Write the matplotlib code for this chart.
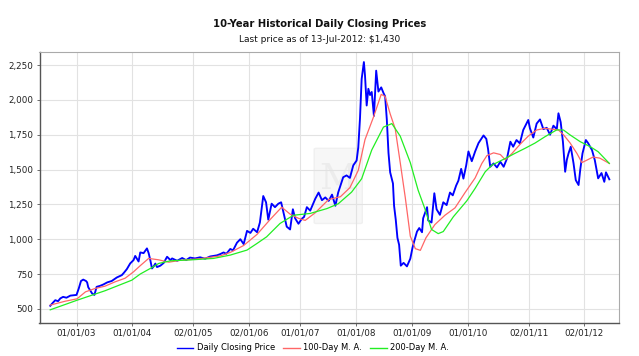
import matplotlib
matplotlib.use("Agg")
import matplotlib.pyplot as plt
import matplotlib.patches as mpatches
import pandas as pd

# ---------------- data (decimal years, values) ----------------
price_t = [2002.53, 2002.58, 2002.62, 2002.67, 2002.71, 2002.76, 2002.82, 2002.89, 2002.95, 2003.00,
           2003.04, 2003.08, 2003.12, 2003.17, 2003.19, 2003.21, 2003.25, 2003.28, 2003.32, 2003.36,
           2003.42, 2003.48, 2003.55, 2003.63, 2003.72, 2003.81, 2003.85, 2003.90, 2003.96, 2004.02,
           2004.05, 2004.11, 2004.14, 2004.20, 2004.26, 2004.29, 2004.32, 2004.35, 2004.38, 2004.41,
           2004.44, 2004.50, 2004.56, 2004.62, 2004.68, 2004.71, 2004.80, 2004.89, 2004.96, 2005.03,
           2005.12, 2005.21, 2005.30, 2005.39, 2005.51, 2005.57, 2005.63, 2005.68, 2005.75, 2005.80,
           2005.87, 2005.93, 2005.99, 2006.05, 2006.11, 2006.16, 2006.23, 2006.28, 2006.34, 2006.39,
           2006.43, 2006.49, 2006.55, 2006.61, 2006.66, 2006.70, 2006.76, 2006.82, 2006.87, 2006.91,
           2006.97, 2007.03, 2007.07, 2007.12, 2007.18, 2007.27, 2007.33, 2007.39, 2007.45, 2007.51,
           2007.57, 2007.63, 2007.68, 2007.77, 2007.83, 2007.89, 2007.95, 2008.01, 2008.04, 2008.07,
           2008.10, 2008.14, 2008.16, 2008.19, 2008.22, 2008.25, 2008.28, 2008.32, 2008.36, 2008.40,
           2008.45, 2008.49, 2008.52, 2008.55, 2008.58, 2008.61, 2008.66, 2008.68, 2008.71, 2008.74,
           2008.77, 2008.80, 2008.85, 2008.91, 2008.97, 2009.01, 2009.04, 2009.09, 2009.13, 2009.18,
           2009.20, 2009.27, 2009.29, 2009.35, 2009.40, 2009.44, 2009.50, 2009.56, 2009.62, 2009.68,
           2009.73, 2009.79, 2009.83, 2009.88, 2009.92, 2009.97, 2010.01, 2010.07, 2010.13, 2010.19,
           2010.24, 2010.28, 2010.33, 2010.36, 2010.40, 2010.46, 2010.52, 2010.58, 2010.64, 2010.70,
           2010.76, 2010.81, 2010.87, 2010.93, 2010.99, 2011.05, 2011.08, 2011.11, 2011.17, 2011.23,
           2011.29, 2011.35, 2011.41, 2011.47, 2011.53, 2011.59, 2011.62, 2011.66, 2011.70, 2011.74,
           2011.77, 2011.80, 2011.84, 2011.89, 2011.93, 2011.98, 2012.01, 2012.05, 2012.11, 2012.15,
           2012.22, 2012.27, 2012.33, 2012.39, 2012.44, 2012.47, 2012.53]
price_v = [522, 545, 562, 555, 575, 586, 580, 595, 598, 600,
           646, 700, 710, 700, 690, 655, 630, 610, 600, 658,
           665, 675, 690, 700, 725, 742, 760, 785, 826, 850,
           880, 840, 905, 900, 934, 900, 850, 790, 805, 825,
           800, 810, 830, 874, 850, 862, 845, 865, 850, 868,
           862, 870, 860, 876, 884, 893, 905, 895, 930, 920,
           975, 1000, 965, 1060, 1045, 1075, 1050, 1120, 1310, 1265,
           1140, 1255, 1230, 1255, 1265, 1195, 1090, 1070, 1215, 1150,
           1111, 1147, 1160, 1230, 1205, 1290, 1335, 1280, 1300, 1275,
           1320, 1240, 1335, 1445, 1458, 1440, 1530, 1565, 1660, 1865,
           2150, 2272, 2175, 1960, 2080, 2035, 2057, 1885, 2210, 2060,
           2090, 2050, 2025, 1860, 1620, 1480, 1400, 1240, 1140, 1010,
           960, 810, 830, 805, 860, 940, 985, 1055, 1080, 1050,
           1150, 1230, 1135, 1120, 1330, 1215, 1175, 1265, 1245, 1335,
           1315, 1385, 1420, 1505, 1435, 1530, 1630, 1560, 1630, 1690,
           1720, 1745, 1720, 1650, 1520, 1544, 1515, 1556, 1520, 1580,
           1700, 1664, 1712, 1688, 1784, 1832, 1856, 1796, 1730, 1830,
           1860, 1790, 1800, 1750, 1815, 1790, 1904, 1840, 1700, 1484,
           1570, 1616, 1664, 1544, 1424, 1389, 1500, 1616, 1712, 1690,
           1640, 1568, 1437, 1475, 1412, 1480, 1430]

ma100_t = [2002.53, 2002.80, 2003.01, 2003.16, 2003.33, 2003.51, 2003.69, 2003.87, 2004.02, 2004.14,
           2004.29, 2004.47, 2004.65, 2004.85, 2005.21, 2005.57, 2005.75, 2005.99, 2006.23, 2006.46,
           2006.67, 2006.82, 2006.97, 2007.09, 2007.27, 2007.51, 2007.72, 2007.89, 2008.04, 2008.16,
           2008.31, 2008.45, 2008.52, 2008.61, 2008.70, 2008.79, 2008.88, 2008.97, 2009.06, 2009.15,
           2009.25, 2009.41, 2009.59, 2009.77, 2009.95, 2010.13, 2010.25, 2010.34, 2010.46, 2010.58,
           2010.67, 2010.79, 2010.93, 2011.08, 2011.23, 2011.38, 2011.62, 2011.71, 2011.83, 2011.95,
           2012.04, 2012.13, 2012.24, 2012.36, 2012.53]
ma100_v = [527, 555, 572, 622, 646, 663, 694, 720, 766, 810,
           862, 852, 835, 848, 860, 880, 905, 955, 1035, 1140,
           1230, 1180, 1150, 1135, 1190, 1285, 1305, 1370, 1495, 1715,
           1875, 2040, 2025, 1900, 1793, 1550, 1300, 1022, 932, 920,
           1010, 1105, 1172, 1225, 1335, 1440, 1544, 1600, 1620, 1608,
           1570, 1616, 1680, 1740, 1784, 1796, 1784, 1750, 1690, 1616,
           1550, 1568, 1590, 1582, 1544]

ma200_t = [2002.53, 2003.01, 2003.51, 2003.99, 2004.14, 2004.32, 2004.47, 2004.68, 2005.06, 2005.45,
           2005.75, 2006.05, 2006.23, 2006.40, 2006.64, 2006.88, 2007.18, 2007.48, 2007.68, 2007.92,
           2008.10, 2008.28, 2008.49, 2008.64, 2008.79, 2008.97, 2009.11, 2009.23, 2009.35, 2009.47,
           2009.56, 2009.74, 2009.98, 2010.13, 2010.31, 2010.43, 2010.67, 2010.84, 2011.02, 2011.20,
           2011.38, 2011.59, 2011.71, 2011.83, 2012.01, 2012.19, 2012.33, 2012.53]
ma200_v = [493, 562, 630, 706, 750, 790, 826, 845, 852, 862,
           886, 922, 970, 1017, 1113, 1172, 1185, 1220, 1254, 1338,
           1434, 1640, 1805, 1830, 1740, 1550, 1352, 1220, 1070, 1040,
           1055, 1161, 1275, 1365, 1484, 1532, 1580, 1616, 1652, 1690,
           1736, 1785, 1784, 1748, 1700, 1664, 1628, 1544]

tick_dates = ["2003-01-01", "2004-01-01", "2005-02-01", "2006-02-01", "2007-01-01",
              "2008-01-01", "2009-01-01", "2010-01-01", "2011-02-01", "2012-02-01"]
tick_labels = ["01/01/03", "01/01/04", "02/01/05", "02/01/06", "01/01/07",
               "01/01/08", "01/01/09", "01/01/10", "02/01/11", "02/01/12"]
y_ticks = [500, 750, 1000, 1250, 1500, 1750, 2000, 2250]

title = "10-Year Historical Daily Closing Prices"
subtitle = "Last price as of 13-Jul-2012: $1,430"


def to_dates(years):
    base = pd.Timestamp("2003-01-01")
    return [base + pd.Timedelta(days=(y - 2003.0) * 365.25) for y in years]


fig = plt.figure(figsize=(6.39, 3.56), dpi=100)
ax = fig.add_axes([39.5 / 639, 1 - 322.5 / 356, (619 - 39.5) / 639, (322.5 - 52) / 356])

# faint watermark
ax.add_patch(mpatches.FancyBboxPatch((0.478, 0.37), 0.075, 0.27, boxstyle="round,pad=0.004",
                                     transform=ax.transAxes, facecolor="#f7f7f7",
                                     edgecolor="#f0f0f0", zorder=0))
ax.text(0.5155, 0.53, "M", transform=ax.transAxes, fontsize=26, family="DejaVu Serif",
        color="#ececec", ha="center", va="center", zorder=0.5)

ax.plot(to_dates(price_t), price_v, color="#0000ff", lw=1.35, label="Daily Closing Price", zorder=3)
ax.plot(to_dates(ma100_t), ma100_v, color="#ff6666", lw=0.9, label="100-Day M. A.", zorder=4)
ax.plot(to_dates(ma200_t), ma200_v, color="#22ee22", lw=0.9, label="200-Day M. A.", zorder=4)

ax.set_xlim(to_dates([2002.338, 2012.703]))
ax.set_ylim(402, 2344)
ax.set_yticks(y_ticks)
ax.set_yticklabels([f"{v:,}" for v in y_ticks])
ax.set_xticks([pd.Timestamp(d) for d in tick_dates])
ax.set_xticklabels(tick_labels)

ax.grid(True, color="#e2e2e2", lw=0.8, zorder=0)
ax.set_axisbelow(True)
for s in ["top", "right"]:
    ax.spines[s].set_color("#aaaaaa")
    ax.spines[s].set_linewidth(0.8)
for s in ["left", "bottom"]:
    ax.spines[s].set_color("#555555")
    ax.spines[s].set_linewidth(1.0)
ax.tick_params(axis="both", labelsize=6.3, length=2.5, width=0.6, color="#555555",
               labelcolor="#222222", pad=2)

fig.text(0.5, 1 - 24 / 356, title, ha="center", va="center", fontsize=7.2, fontweight="bold",
         color="#111111")
fig.text(0.5, 1 - 40 / 356, subtitle, ha="center", va="center", fontsize=6.5, color="#111111")

leg = fig.legend(loc="center", bbox_to_anchor=(313 / 639, 1 - 348 / 356), ncol=3, frameon=False,
                 fontsize=6.0, handlelength=2.0, handletextpad=0.4, columnspacing=1.0)
for line in leg.get_lines():
    line.set_linewidth(1.0)

fig.savefig("out.png", dpi=100)
